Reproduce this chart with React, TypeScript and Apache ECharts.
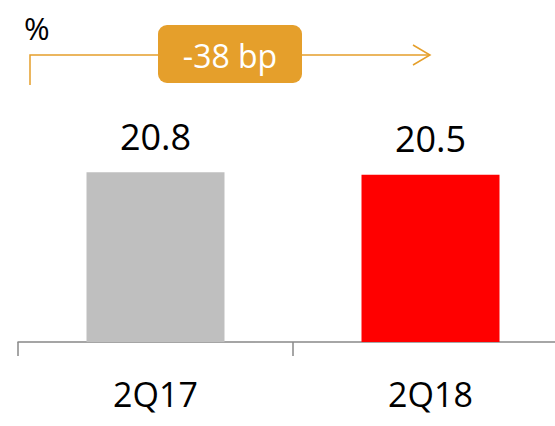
import React, { useEffect, useRef } from "react";
import * as echarts from "echarts";

const categories = ["2Q17", "2Q18"];
const values = [20.8, 20.5];
const barColors = ["#BFBFBF", "#FF0000"];
const unitLabel = "%";
const changeLabel = "-38 bp";

const ORANGE = "#E59F2B";
const FONT = "'Open Sans', 'Liberation Sans', sans-serif";

export default function App() {
  const ref = useRef<HTMLDivElement>(null);
  useEffect(() => {
    if (!ref.current) return;
    const chart = echarts.init(ref.current, null, { renderer: "svg" });
    chart.setOption({
      animation: false,
      backgroundColor: "#ffffff",
      grid: { left: 18, top: 138, width: 550, height: 204, containLabel: false },
      xAxis: {
        type: "category",
        data: categories,
        axisLine: { show: true, lineStyle: { color: "#888888", width: 1.5 } },
        axisTick: { show: true, length: 14, lineStyle: { color: "#888888", width: 1.5 } },
        axisLabel: {
          fontSize: 34,
          lineHeight: 34,
          margin: 35,
          color: "#000000",
          fontFamily: FONT,
        },
        splitLine: { show: false },
      },
      yAxis: {
        type: "value",
        min: 0,
        max: 25,
        show: false,
        splitLine: { show: false },
      },
      series: [
        {
          type: "bar",
          barWidth: 138,
          data: values.map((v, i) => ({ value: v, itemStyle: { color: barColors[i] } })),
          label: {
            show: true,
            position: "top",
            distance: 18,
            fontSize: 36,
            lineHeight: 36,
            color: "#000000",
            fontFamily: FONT,
            formatter: (p: any) => p.value.toFixed(1),
          },
        },
      ],
      graphic: [
        {
          type: "text",
          left: 24,
          top: 12,
          style: { text: unitLabel, fontSize: 31, fill: "#000000", fontFamily: FONT },
        },
        {
          type: "polyline",
          shape: { points: [[30, 85], [30, 55], [430, 55]] },
          style: { stroke: ORANGE, lineWidth: 1.5, fill: "none" },
        },
        {
          type: "polyline",
          shape: { points: [[413, 45], [430, 55], [413, 65]] },
          style: { stroke: ORANGE, lineWidth: 1.5, fill: "none" },
        },
        {
          type: "rect",
          shape: { x: 158, y: 25, width: 144, height: 58, r: 9 },
          style: { fill: ORANGE },
        },
        {
          type: "text",
          x: 230,
          y: 55,
          style: {
            text: changeLabel,
            fontSize: 32,
            fill: "#ffffff",
            fontFamily: FONT,
            align: "center",
            verticalAlign: "middle",
          },
        },
      ],
    });
    return () => chart.dispose();
  }, []);
  return (
    <div
      style={{
        position: "absolute",
        left: 0,
        top: 0,
        width: 555,
        height: 426,
        overflow: "hidden",
        background: "#ffffff",
      }}
    >
      <div ref={ref} style={{ width: 580, height: 426 }} />
    </div>
  );
}
